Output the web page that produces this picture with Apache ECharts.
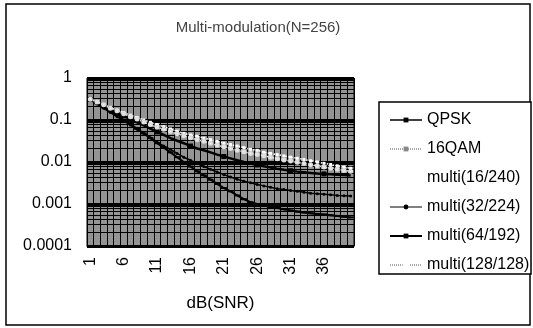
<!DOCTYPE html>
<html>
<head>
<meta charset="utf-8">
<script src="https://cdn.jsdelivr.net/npm/echarts@6/dist/echarts.min.js"></script>
<style>
  html, body { margin: 0; padding: 0; background: #fff; }
  #chart { width: 533px; height: 328px; }
</style>
</head>
<body>
<div id="chart"></div>
<script>
// SNR in dB (category axis)
const snr = [1, 2, 3, 4, 5, 6, 7, 8, 9, 10, 11, 12, 13, 14, 15, 16, 17, 18, 19, 20,
  21, 22, 23, 24, 25, 26, 27, 28, 29, 30, 31, 32, 33, 34, 35, 36, 37, 38, 39, 40]

// BER values
const qpsk = [0.3, 0.25, 0.2, 0.16, 0.13, 0.1, 0.08, 0.062, 0.048, 0.037,
  0.028, 0.022, 0.017, 0.013, 0.01, 0.0078, 0.006, 0.0048, 0.0038, 0.003,
  0.0024, 0.002, 0.0016, 0.0013, 0.0011, 0.001, 0.00092, 0.00085, 0.0008, 0.00075,
  0.0007, 0.00066, 0.00063, 0.0006, 0.00058, 0.00056, 0.00054, 0.00052, 0.0005, 0.00048]
const qam16 = [0.32, 0.27, 0.23, 0.2, 0.17, 0.15, 0.13, 0.115, 0.1, 0.088,
  0.078, 0.069, 0.061, 0.054, 0.048, 0.044, 0.041, 0.037, 0.034, 0.031,
  0.028, 0.026, 0.024, 0.022, 0.02, 0.019, 0.017, 0.016, 0.015, 0.014,
  0.013, 0.0122, 0.0115, 0.0107, 0.01, 0.0093, 0.0087, 0.0081, 0.0076, 0.0071]
const multi16 = [0.3, 0.25, 0.21, 0.17, 0.14, 0.12, 0.1, 0.084, 0.07, 0.058,
  0.048, 0.04, 0.034, 0.029, 0.025, 0.021, 0.018, 0.016, 0.014, 0.012,
  0.011, 0.0098, 0.0088, 0.008, 0.0073, 0.0067, 0.0061, 0.0056, 0.0052, 0.0048,
  0.0045, 0.0042, 0.004, 0.0038, 0.0036, 0.0034, 0.0033, 0.0032, 0.0031, 0.003]
const multi32 = [0.3, 0.24, 0.19, 0.15, 0.12, 0.095, 0.076, 0.06, 0.048, 0.038,
  0.03, 0.024, 0.02, 0.016, 0.013, 0.011, 0.0092, 0.0078, 0.0067, 0.0058,
  0.005, 0.0044, 0.0039, 0.0035, 0.0032, 0.0029, 0.0027, 0.0025, 0.0023, 0.0022,
  0.0021, 0.002, 0.0019, 0.0018, 0.00175, 0.0017, 0.00165, 0.0016, 0.00158, 0.00155]
const multi64 = [0.31, 0.26, 0.22, 0.18, 0.15, 0.125, 0.105, 0.088, 0.074, 0.062,
  0.052, 0.044, 0.037, 0.032, 0.028, 0.024, 0.021, 0.019, 0.017, 0.015,
  0.0135, 0.0122, 0.011, 0.01, 0.0092, 0.0085, 0.0079, 0.0074, 0.0069, 0.0065,
  0.0062, 0.0059, 0.0057, 0.0055, 0.0053, 0.0052, 0.0051, 0.005, 0.0049, 0.0048]
const multi128 = [0.31, 0.27, 0.23, 0.19, 0.165, 0.14, 0.12, 0.105, 0.09, 0.078,
  0.068, 0.06, 0.053, 0.047, 0.042, 0.038, 0.034, 0.031, 0.028, 0.025,
  0.023, 0.021, 0.019, 0.0175, 0.016, 0.015, 0.014, 0.013, 0.012, 0.0112,
  0.0105, 0.0098, 0.0092, 0.0086, 0.0081, 0.0076, 0.0071, 0.0067, 0.0063, 0.006]

const yTicks = ['1', '0.1', '0.01', '0.001', '0.0001']

const font = '"Liberation Sans", Arial, sans-serif'

const myChart = echarts.init(document.getElementById('chart'))

const option = {
  animation: false,
  backgroundColor: '#fff',
  title: {
    text: 'Multi-modulation(N=256)',
    left: 253,
    textAlign: 'center',
    top: 15,
    textStyle: { fontFamily: font, fontSize: 15, fontWeight: 'normal', color: '#444' }
  },
  graphic: [
    {
      type: 'rect',
      shape: { x: 6, y: 4, width: 524, height: 321 },
      style: { fill: null, stroke: '#000', lineWidth: 1.5 },
      z: -1
    },
    {
      type: 'rect',
      shape: { x: 379, y: 102, width: 152, height: 172 },
      style: { fill: '#fff', stroke: '#000', lineWidth: 1.5 },
      z: 0
    }
  ],
  legend: {
    orient: 'vertical',
    left: 384,
    top: 107,
    itemWidth: 32,
    itemHeight: 6,
    itemGap: 13,
    z: 10,
    textStyle: { fontFamily: font, fontSize: 16, color: '#000' },
    data: [
      { name: 'QPSK', lineStyle: { color: '#000', width: 1.5 }, itemStyle: { color: '#000' } },
      { name: '16QAM', lineStyle: { color: '#555', width: 1, type: 'dotted' }, itemStyle: { color: '#888' } },
      { name: 'multi(16/240)' },
      { name: 'multi(32/224)', lineStyle: { color: '#000', width: 1 }, itemStyle: { color: '#000' } },
      { name: 'multi(64/192)', lineStyle: { color: '#000', width: 2 }, itemStyle: { color: '#000' } },
      { name: 'multi(128/128)', lineStyle: { color: '#555', width: 1, type: 'dotted' }, itemStyle: { color: '#fff', borderColor: '#444' } }
    ]
  },
  grid: {
    left: 87,
    top: 78,
    width: 267,
    height: 168,
    show: true,
    backgroundColor: '#949494',
    borderColor: '#000',
    borderWidth: 1
  },
  xAxis: {
    type: 'category',
    data: snr,
    boundaryGap: true,
    name: 'dB(SNR)',
    nameLocation: 'middle',
    nameGap: 49,
    nameTextStyle: { fontFamily: font, fontSize: 17, color: '#000' },
    axisLine: { lineStyle: { color: '#000' } },
    axisTick: { show: false },
    axisLabel: {
      interval: 4,
      rotate: 90,
      margin: 11,
      fontFamily: font,
      fontSize: 16,
      color: '#000'
    },
    splitLine: { show: true, interval: 0, lineStyle: { color: '#000', width: 1 } }
  },
  yAxis: {
    type: 'log',
    logBase: 10,
    min: 0.0001,
    max: 1,
    axisLine: { show: true, lineStyle: { color: '#000' } },
    axisTick: { show: false },
    axisLabel: {
      margin: 15,
      fontFamily: font,
      fontSize: 16,
      color: '#000',
      formatter: (v) => {
        const i = Math.round(-Math.log10(v))
        return yTicks[i] !== undefined ? yTicks[i] : ''
      }
    },
    splitLine: { show: true, lineStyle: { color: '#000', width: 3 } },
    minorTick: { show: false, splitNumber: 8 },
    minorSplitLine: { show: true, lineStyle: { color: '#000', width: 1 } }
  },
  series: [
    {
      name: 'QPSK', type: 'line', data: qpsk,
      color: '#000', symbol: 'rect', symbolSize: [6, 2],
      lineStyle: { color: '#000', width: 2 }, z: 5
    },
    {
      name: '16QAM', type: 'line', data: qam16,
      color: '#fff', symbol: 'rect', symbolSize: 3,
      lineStyle: { color: '#fff', width: 1.5, type: 'dotted' }, z: 6
    },
    {
      name: 'multi(16/240)', type: 'line', data: multi16,
      color: '#fff', symbol: 'none',
      lineStyle: { color: '#fff', width: 0 }, z: 4
    },
    {
      name: 'multi(32/224)', type: 'line', data: multi32,
      color: '#000', symbol: 'circle', symbolSize: 3,
      lineStyle: { color: '#000', width: 1.5 }, z: 5
    },
    {
      name: 'multi(64/192)', type: 'line', data: multi64,
      color: '#000', symbol: 'rect', symbolSize: 5,
      lineStyle: { color: '#000', width: 2.5 }, z: 5
    },
    {
      name: 'multi(128/128)', type: 'line', data: multi128,
      color: '#ddd', symbol: 'emptyCircle', symbolSize: 3,
      lineStyle: { color: '#ddd', width: 1.5, type: 'dotted' }, z: 6
    }
  ]
}

myChart.setOption(option)
</script>
</body>
</html>
